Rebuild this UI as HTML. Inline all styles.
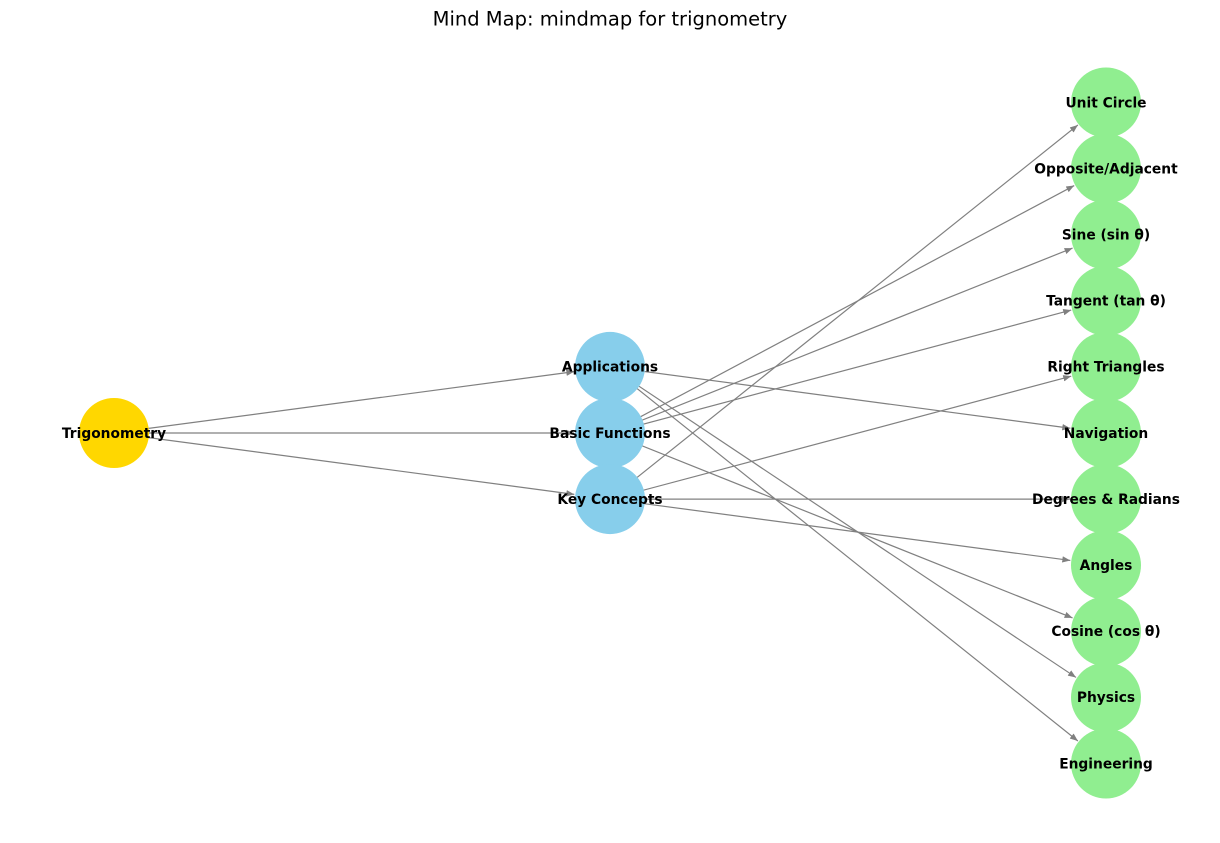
<!DOCTYPE html>
<html><head><meta charset="utf-8"><style>
body{margin:0;background:#fff;}
svg{display:block;font-family:"DejaVu Sans","Liberation Sans",sans-serif;}
</style></head><body>
<svg id="chart" width="1220" height="843" viewBox="0 0 1220 843">
<defs><marker id="ah" viewBox="0 0 10 10" refX="10" refY="5" markerWidth="8" markerHeight="8" markerUnits="userSpaceOnUse" orient="auto"><path d="M0,1 L10,5 L0,9 z" fill="#808080"/></marker></defs>
<text x="610" y="25.5" text-anchor="middle" font-size="19.5" fill="#000">Mind Map: mindmap for trignometry</text>
<g id="edges"></g><g id="nodes"></g>
</svg>
<script>
const nodeNames = ["Trigonometry","Applications","Basic Functions","Key Concepts","Unit Circle","Opposite/Adjacent","Sine (sin θ)","Tangent (tan θ)","Right Triangles","Navigation","Degrees & Radians","Angles","Cosine (cos θ)","Physics","Engineering"];
const nodeLevel = [0,1,1,1,2,2,2,2,2,2,2,2,2,2,2];
const nodeRow = [0,-1,0,1,-5,-4,-3,-2,-1,0,1,2,3,4,5];
const edgeFrom = ["Trigonometry","Trigonometry","Trigonometry","Applications","Applications","Applications","Basic Functions","Basic Functions","Basic Functions","Basic Functions","Key Concepts","Key Concepts","Key Concepts","Key Concepts"];
const edgeTo = ["Applications","Basic Functions","Key Concepts","Navigation","Physics","Engineering","Opposite/Adjacent","Sine (sin θ)","Tangent (tan θ)","Cosine (cos θ)","Unit Circle","Right Triangles","Degrees & Radians","Angles"];
const colors = ["#ffd700","#87ceeb","#90ee90"];
const xOf = l => 114 + l*496;
const yOf = r => 433 + r*66.1;
const R = 35;
const ns = "http://www.w3.org/2000/svg";
const eg = document.getElementById('edges'), ng = document.getElementById('nodes');
const pos = {};
nodeNames.forEach((n,i)=>{pos[n]=[xOf(nodeLevel[i]),yOf(nodeRow[i])];});
edgeFrom.forEach((f,i)=>{
  const [x1,y1]=pos[f],[x2,y2]=pos[edgeTo[i]];
  const d=Math.hypot(x2-x1,y2-y1),ux=(x2-x1)/d,uy=(y2-y1)/d;
  const l=document.createElementNS(ns,'line');
  l.setAttribute('x1',x1);l.setAttribute('y1',y1);
  l.setAttribute('x2',x2-ux*(R+1));l.setAttribute('y2',y2-uy*(R+1));
  l.setAttribute('stroke','#808080');l.setAttribute('stroke-width','1.2');
  l.setAttribute('marker-end','url(#ah)');
  
  
  eg.appendChild(l);
});
nodeNames.forEach((n,i)=>{
  const [x,y]=pos[n];
  const c=document.createElementNS(ns,'circle');
  c.setAttribute('cx',x);c.setAttribute('cy',y);c.setAttribute('r',R);
  c.setAttribute('fill',colors[nodeLevel[i]]);
  
  
  ng.appendChild(c);
});
nodeNames.forEach((n,i)=>{
  const [x,y]=pos[n];
  const t=document.createElementNS(ns,'text');
  t.setAttribute('x',x);t.setAttribute('y',y+4.8);
  t.setAttribute('text-anchor','middle');t.setAttribute('font-size','13.8');
  t.setAttribute('font-weight','bold');t.textContent=n;
  
  
  ng.appendChild(t);
});
</script>
</body></html>
